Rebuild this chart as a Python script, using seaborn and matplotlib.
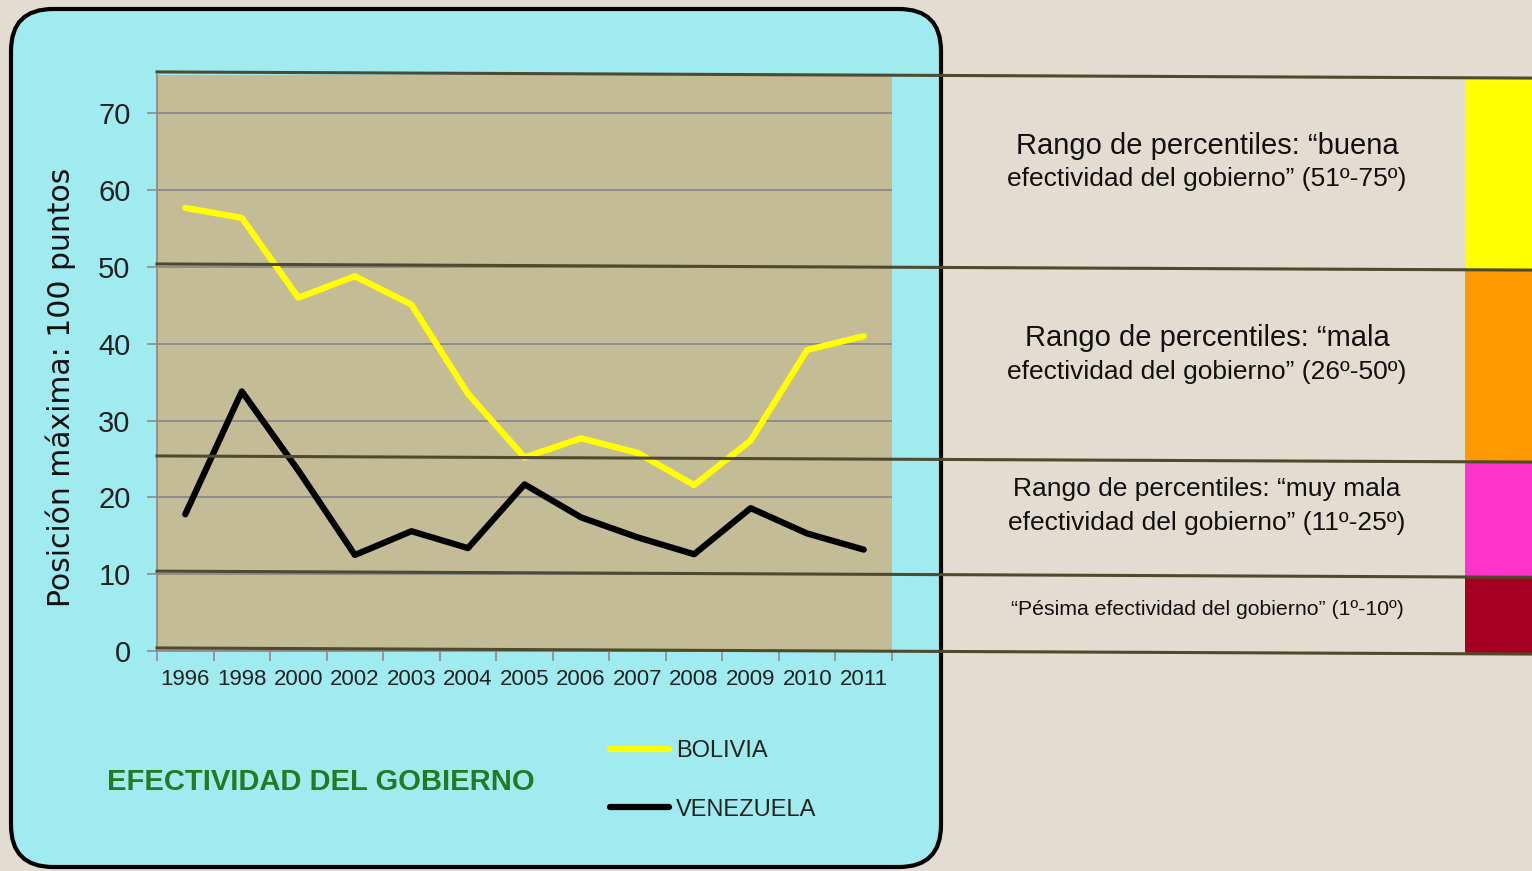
import matplotlib
matplotlib.use("Agg")
import matplotlib.pyplot as plt
from matplotlib import font_manager as fm
from matplotlib.patches import FancyBboxPatch, Rectangle
from matplotlib.transforms import blended_transform_factory
import seaborn as sns
import pandas as pd

# ---------------------------------------------------------------- data
years = ["1996", "1998", "2000", "2002", "2003", "2004", "2005",
         "2006", "2007", "2008", "2009", "2010", "2011"]
bolivia = [57.7, 56.4, 46.0, 48.8, 45.1, 33.5, 25.2, 27.7, 25.8, 21.6, 27.4, 39.2, 41.0]
venezuela = [17.8, 33.8, 23.5, 12.5, 15.6, 13.4, 21.7, 17.4, 14.8, 12.6, 18.6, 15.3, 13.2]
countries = ["BOLIVIA", "VENEZUELA"]
line_colors = ["#FFFF00", "#000000"]
yticks = [0, 10, 20, 30, 40, 50, 60, 70]

band_edges = [75, 50, 25, 10, 0]
band_colors = ["#FFFF00", "#FF9900", "#FF33CC", "#A50021"]
band_line1 = ["Rango de percentiles: “buena",
              "Rango de percentiles: “mala",
              "Rango de percentiles: “muy mala",
              "“Pésima efectividad del gobierno” (1º-10º)"]
band_line2 = ["efectividad del gobierno” (51º-75º)",
              "efectividad del gobierno” (26º-50º)",
              "efectividad del gobierno” (11º-25º)",
              ""]
band_line1_size = [21, 21, 19, 15.3]
band_text_y = [63.6, 38.5, 18.9, 5.4]

title = "EFECTIVIDAD DEL GOBIERNO"
ylabel = "Posición máxima: 100 puntos"

# ---------------------------------------------------------------- fonts
names = {f.name for f in fm.fontManager.ttflist}
narrow = "Liberation Sans Narrow" if "Liberation Sans Narrow" in names else "Liberation Sans"
arial = "Liberation Sans"

# ---------------------------------------------------------------- figure
W, H = 1532, 871
fig = plt.figure(figsize=(W / 100, H / 100), dpi=100)
fig.patch.set_facecolor("#E3DCD1")

# background layer in pixel coordinates (cyan rounded panel)
bg = fig.add_axes([0, 0, 1, 1], zorder=0)
bg.set_xlim(0, W)
bg.set_ylim(H, 0)
bg.axis("off")
bg.add_patch(FancyBboxPatch((11, 9), 930, 858,
                            boxstyle="round,pad=0,rounding_size=42",
                            facecolor="#9FEBEF", edgecolor="black", linewidth=3))

ax_left, ax_right, ax_top, ax_bottom = 157, 892, 75, 651
ax = fig.add_axes([ax_left / W, 1 - ax_bottom / H,
                   (ax_right - ax_left) / W, (ax_bottom - ax_top) / H], zorder=1)
ax.set_facecolor("#C4BC96")

df = pd.DataFrame({
    "year": years * 2,
    "value": bolivia + venezuela,
    "country": [countries[0]] * len(years) + [countries[1]] * len(years),
})
sns.lineplot(data=df, x="year", y="value", hue="country",
             palette=dict(zip(countries, line_colors)),
             linewidth=4.5, sort=False, ax=ax, zorder=3)
for ln in ax.get_lines():
    ln.set_solid_capstyle("round")
    ln.set_solid_joinstyle("round")

ax.set_xlim(-0.5, len(years) - 0.5)
ax.set_ylim(0, 75)
ax.set_yticks(yticks)
ax.yaxis.grid(True, color="#8C8C8C", linewidth=1.4)
ax.set_axisbelow(True)
for s in ["top", "right"]:
    ax.spines[s].set_visible(False)
for s in ["left", "bottom"]:
    ax.spines[s].set_color("#8C8C8C")
    ax.spines[s].set_linewidth(1.3)

ax.set_xticks(range(len(years)))
ax.set_xticklabels(years)
ax.set_xticks([i - 0.5 for i in range(len(years) + 1)], minor=True)
ax.tick_params(axis="x", which="major", length=0, pad=13, labelsize=16,
               labelcolor="#222222")
ax.tick_params(axis="x", which="minor", length=7, width=1.2, color="#8C8C8C")
ax.tick_params(axis="y", length=7, width=1.2, color="#8C8C8C", pad=12,
               labelsize=21, labelcolor="#222222")
for lab in ax.get_xticklabels() + ax.get_yticklabels():
    lab.set_fontfamily(narrow)

ax.set_xlabel("")
ax.set_ylabel(ylabel, fontsize=21.5, color="#111111", family="DejaVu Sans")
ax.yaxis.set_label_coords(-0.110, 0.458)

# legend
handles, labels = ax.get_legend_handles_labels()
leg = ax.legend(handles, labels, loc="upper left",
                bbox_to_anchor=(610 / W, 1 - 740 / H), bbox_transform=fig.transFigure,
                frameon=False, borderpad=0, borderaxespad=0,
                handlelength=2.5, handletextpad=0.3, labelspacing=1.55,
                prop={"family": narrow, "size": 17})
for h in leg.get_lines():
    h.set_linewidth(4.5)
    h.set_solid_capstyle("round")
for t in leg.get_texts():
    t.set_color("#222222")

# percentile bands to the right of the chart
bt = blended_transform_factory(ax.transAxes, ax.transData)
x_end = (W - ax_left) / (ax_right - ax_left)
x_bar = (1465 - ax_left) / (ax_right - ax_left)
x_txt = (1207 - ax_left) / (ax_right - ax_left)
lift, drift = 0.4, 0.8
for lvl in band_edges:
    ax.plot([0, x_end], [lvl + lift, lvl + lift - drift], transform=bt,
            color="#4E4A2E", linewidth=2.2, clip_on=False, zorder=5)
for i, c in enumerate(band_colors):
    lo, hi = band_edges[i + 1], band_edges[i]
    ax.add_patch(Rectangle((x_bar, lo + lift - drift), x_end - x_bar, hi - lo,
                           transform=bt, facecolor=c, edgecolor="none",
                           clip_on=False, zorder=4))
for i in range(len(band_colors)):
    if band_line2[i]:
        ax.text(x_txt, band_text_y[i] + 2.2, band_line1[i], transform=bt,
                ha="center", va="center", fontsize=band_line1_size[i],
                family=arial, color="#111111")
        ax.text(x_txt, band_text_y[i] - 2.2, band_line2[i], transform=bt,
                ha="center", va="center", fontsize=19, family=arial, color="#111111")
    else:
        ax.text(x_txt, band_text_y[i], band_line1[i], transform=bt,
                ha="center", va="center", fontsize=band_line1_size[i],
                family=arial, color="#111111")

fig.text(107 / W, 1 - 782 / H, title, ha="left", va="center", fontsize=21,
         fontweight="bold", family=narrow, color="#227A22")

fig.savefig("out.png", dpi=100, facecolor=fig.get_facecolor())
